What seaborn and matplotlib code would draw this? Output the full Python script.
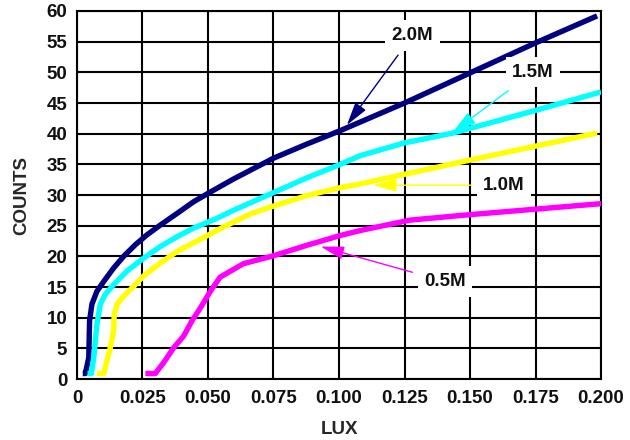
import matplotlib
matplotlib.use("Agg")
import matplotlib.pyplot as plt
import seaborn as sns
import pandas as pd

# ---- data ----
series_names = ["2.0M", "1.5M", "1.0M", "0.5M"]
series_colors = ["#000080", "#00FFFF", "#FFFF00", "#FF00FF"]

lux_20 = [0.0022, 0.0032, 0.0045, 0.0048, 0.0057, 0.0076, 0.0102, 0.0140, 0.0178, 0.0223,
          0.0267, 0.0318, 0.0382, 0.0445, 0.0522, 0.0597, 0.0750, 0.0877, 0.1005, 0.125,
          0.150, 0.175, 0.1985]
cnt_20 = [0.9, 0.9, 3.5, 9.5, 12.2, 14.3, 15.9, 18.1, 20.0, 21.9,
          23.5, 25.1, 27.0, 28.9, 30.8, 32.6, 36.0, 38.3, 40.5, 45.0,
          49.9, 54.8, 59.2]

lux_15 = [0.0040, 0.0055, 0.0064, 0.0076, 0.0089, 0.0108, 0.0140, 0.0191, 0.0254, 0.0318,
          0.0382, 0.0445, 0.0534, 0.0597, 0.0750, 0.0877, 0.1005, 0.1080, 0.125, 0.1435,
          0.175, 0.2]
cnt_15 = [0.9, 0.9, 3.5, 8.9, 12.2, 13.8, 15.4, 17.6, 19.7, 21.6,
          23.2, 24.6, 26.2, 27.5, 30.4, 32.8, 35.0, 36.4, 38.5, 40.1,
          43.8, 46.8]

lux_10 = [0.0076, 0.0102, 0.0127, 0.0140, 0.0142, 0.0153, 0.0178, 0.0216, 0.0254, 0.0318,
          0.0382, 0.0445, 0.0546, 0.0661, 0.0750, 0.0877, 0.1005, 0.1080, 0.150, 0.1985]
cnt_10 = [0.9, 0.9, 5.1, 7.8, 10.5, 12.2, 13.5, 15.1, 16.8, 18.9,
          20.8, 22.2, 24.5, 26.9, 28.2, 29.9, 31.2, 31.8, 35.7, 40.1]

lux_05 = [0.0261, 0.0299, 0.0331, 0.0369, 0.0407, 0.0439, 0.0471, 0.0509, 0.0546, 0.0635,
          0.0750, 0.0877, 0.1005, 0.1080, 0.127, 0.150, 0.2003]
cnt_05 = [0.9, 0.9, 2.7, 5.1, 7.0, 9.5, 11.6, 14.3, 16.6, 18.8,
          20.1, 21.8, 23.4, 24.2, 25.9, 26.8, 28.6]

x_ticks = [0, 0.025, 0.05, 0.075, 0.1, 0.125, 0.15, 0.175, 0.2]
x_tick_labels = ["0", "0.025", "0.050", "0.075", "0.100", "0.125", "0.150", "0.175", "0.200"]
y_ticks = [0, 5, 10, 15, 20, 25, 30, 35, 40, 45, 50, 55, 60]
y_tick_labels = [str(v) for v in y_ticks]

# label text position and arrow tip (data coords)
label_pos = {"2.0M": (0.128, 56.0), "1.5M": (0.174, 50.0), "1.0M": (0.163, 31.6), "0.5M": (0.1405, 15.9)}
arrow_tip = {"2.0M": (0.1030, 41.4), "1.5M": (0.1435, 40.3), "1.0M": (0.1130, 31.6), "0.5M": (0.0930, 21.6)}

# ---- build long table ----
frames = []
for name, xs, ys in zip(series_names,
                        [lux_20, lux_15, lux_10, lux_05],
                        [cnt_20, cnt_15, cnt_10, cnt_05]):
    frames.append(pd.DataFrame({"LUX": xs, "COUNTS": ys, "series": name}))
df = pd.concat(frames, ignore_index=True)

sns.set_style("white")
plt.rcParams["font.family"] = ["Liberation Sans", "DejaVu Sans"]
plt.rcParams["font.weight"] = "bold"

FS = 13.5

fig = plt.figure(figsize=(6.3, 4.4), dpi=100)
ax = fig.add_axes([0.1222, 0.1386, 0.8318, 0.8364])

sns.lineplot(data=df, x="LUX", y="COUNTS", hue="series", hue_order=series_names,
             palette=series_colors, sort=False, estimator=None, units="series",
             linewidth=3.9, legend=False, ax=ax, zorder=3)
for ln in ax.get_lines():
    ln.set_solid_capstyle("butt")
    ln.set_solid_joinstyle("round")

ax.set_xlim(0, 0.2)
ax.set_ylim(0, 60)
ax.set_xticks(x_ticks)
ax.set_xticklabels(x_tick_labels, fontsize=FS, fontweight="bold", color="#111111")
ax.set_yticks(y_ticks)
ax.set_yticklabels(y_tick_labels, fontsize=FS, fontweight="bold", color="#111111")
ax.grid(True, color="black", linewidth=1.5)
ax.set_axisbelow(True)
for sp in ax.spines.values():
    sp.set_color("black")
    sp.set_linewidth(1.5)
ax.tick_params(axis="both", length=0)
ax.tick_params(axis="x", pad=8)
ax.tick_params(axis="y", pad=7)

ax.set_xlabel("LUX", fontsize=FS, fontweight="bold", labelpad=10)
ax.set_ylabel("COUNTS", fontsize=FS, fontweight="bold", labelpad=12)

for name, col in zip(series_names, series_colors):
    ax.annotate(name, xy=arrow_tip[name], xytext=label_pos[name],
                ha="center", va="center", fontsize=FS, fontweight="bold",
                color="#111111",
                bbox=dict(boxstyle="square,pad=0.35", fc="white", ec="none"),
                arrowprops=dict(arrowstyle="-|>,head_length=0.8,head_width=0.22",
                                color=col, lw=1.0, mutation_scale=18,
                                shrinkA=4, shrinkB=0),
                zorder=4)

fig.savefig("out.png", dpi=100)
